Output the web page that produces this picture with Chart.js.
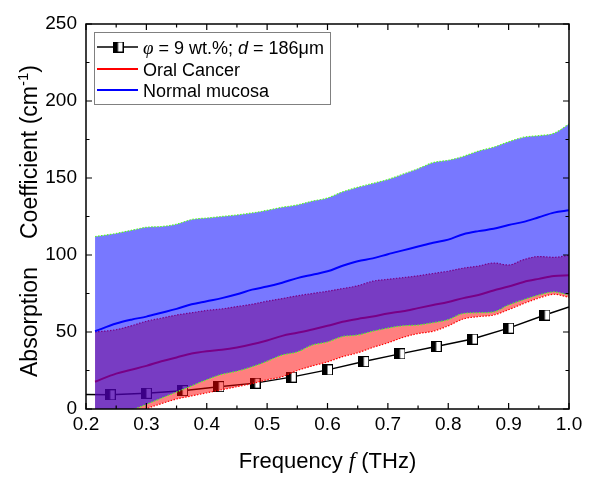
<!DOCTYPE html>
<html>
<head>
<meta charset="utf-8">
<script src="https://cdn.jsdelivr.net/npm/chart.js"></script>
<style>
    html, body { margin: 0; padding: 0; background: #fff; }
    #wrap { width: 592px; height: 477px; position: relative; }
</style>
</head>
<body>
<div id="wrap"><canvas id="myChart"></canvas></div>
<script>
// frequency grid (THz) for the two tissue bands
var freq = [0.215, 0.25, 0.275, 0.3, 0.325, 0.35, 0.375, 0.4, 0.425, 0.45, 0.475, 0.5, 0.525, 0.55, 0.575, 0.6,
    0.625, 0.65, 0.675, 0.7, 0.725, 0.75, 0.775, 0.8, 0.825, 0.85, 0.875, 0.9, 0.925, 0.95, 0.975, 1.0];

var normalUpper = [112, 114, 116, 118, 118.5, 120, 123, 124, 125, 126, 127.3, 129, 131, 132.5, 135, 137,
    141, 144, 146.5, 149, 152.5, 156, 160, 161.5, 164, 167.5, 170, 173.5, 176.5, 177.5, 179, 185];
var normalMean = [50.5, 55.5, 58, 60, 62.5, 65, 68, 70, 72, 74.5, 77.5, 79.5, 82, 85, 87.2, 89.4,
    93, 96, 97.8, 100.5, 103, 105.5, 108, 110, 113.5, 115.5, 117, 119.5, 121.5, 124.5, 127.5, 129];
var normalLower = [-14, -5, -1, 3, 7, 11, 15, 19, 22.5, 24.5, 27.4, 31, 35, 37, 41.5, 43.5,
    47, 48, 50.5, 52.5, 54, 54.5, 56, 58, 62, 62.5, 63, 67.5, 71, 74, 76, 74];

var cancerUpper = [50, 51.5, 54, 57, 59, 61, 62.5, 64, 65, 66.5, 68, 70, 71.7, 73.5, 75, 76.5,
    78.2, 80, 83, 84.2, 85.3, 86.5, 88, 89.5, 91.5, 92.8, 94.8, 93.5, 97, 99, 98.5, 99.7];
var cancerMean = [17.7, 23, 25.5, 28, 31, 33.5, 36, 37.5, 38.5, 40, 42, 44.5, 47.5, 49.5, 51.6, 54,
    56.6, 58.5, 60, 62, 63.5, 65.5, 67.5, 69.5, 72, 74, 77, 79.5, 82.5, 84.5, 86.3, 86.8];
var cancerLower = [-25, -15, -6, 0, 3.5, 6.5, 8.5, 10.5, 12.5, 14.5, 16.5, 19, 21, 25, 28, 30.6,
    34, 36.5, 40, 43, 46.5, 49, 50.5, 54, 58.5, 60, 61, 64.5, 68.5, 72, 74.5, 72.5];

// film sample (phi = 9 wt.%, d = 186 um)
var filmFreq = [0.2, 0.24, 0.30, 0.36, 0.42, 0.48, 0.54, 0.60, 0.66, 0.72, 0.78, 0.84, 0.90, 0.96, 1.0];
var filmAbs = [9.4, 9.2, 10.2, 11.9, 14.5, 16.8, 20.7, 25.4, 30.8, 35.8, 40.6, 45.4, 52.5, 61, 66.2];
var filmMarks = [0, 1, 1, 1, 1, 1, 1, 1, 1, 1, 1, 1, 1, 1, 0];

var xTicks = [0.2, 0.3, 0.4, 0.5, 0.6, 0.7, 0.8, 0.9, 1.0];
var yTicks = [0, 50, 100, 150, 200, 250];

function toPts(xs, ys) {
    return xs.map(function (x, i) { return {x: x, y: ys[i]}; });
}

// half filled square marker
var marker = document.createElement('canvas');
marker.width = 11;
marker.height = 11;
var mctx = marker.getContext('2d');
mctx.fillStyle = '#fff';
mctx.fillRect(0, 0, 11, 11);
mctx.fillStyle = '#000';
mctx.fillRect(0, 0, 5.5, 11);
mctx.strokeStyle = '#000';
mctx.lineWidth = 1;
mctx.strokeRect(0.5, 0.5, 10, 10);

var SANS = '"Liberation Sans", Arial, sans-serif';
var SERIF = '"Liberation Serif", "Times New Roman", serif';

var frameTicks = {
    id: 'frameTicks',
    afterDatasetsDraw: function (chart) {
        var a = chart.chartArea, ctx = chart.ctx;
        var xs = chart.scales.x, ys = chart.scales.y;
        ctx.save();
        ctx.strokeStyle = '#000';
        ctx.lineWidth = 1.2;
        ctx.beginPath();
        for (var i = 0; i <= 16; i++) {
            var px = xs.getPixelForValue(0.2 + i * 0.05);
            var len = i % 2 === 0 ? 6 : 3.5;
            ctx.moveTo(px, a.bottom); ctx.lineTo(px, a.bottom - len);
            ctx.moveTo(px, a.top); ctx.lineTo(px, a.top + len);
        }
        for (var j = 0; j <= 10; j++) {
            var py = ys.getPixelForValue(j * 25);
            var l2 = j % 2 === 0 ? 6 : 3.5;
            ctx.moveTo(a.left, py); ctx.lineTo(a.left + l2, py);
            ctx.moveTo(a.right, py); ctx.lineTo(a.right - l2, py);
        }
        ctx.stroke();
        ctx.lineWidth = 1.5;
        ctx.strokeRect(a.left, a.top, a.right - a.left, a.bottom - a.top);
        ctx.restore();
    }
};

function drawRun(ctx, parts, x, y) {
    parts.forEach(function (p) {
        ctx.font = p[1];
        ctx.fillText(p[0], x, y + (p[2] || 0));
        x += ctx.measureText(p[0]).width;
    });
    return x;
}

var labelsPlugin = {
    id: 'labelsPlugin',
    afterDraw: function (chart) {
        var ctx = chart.ctx, a = chart.chartArea;
        ctx.save();
        ctx.fillStyle = '#000';
        ctx.textBaseline = 'alphabetic';

        // x title
        var xParts = [['Frequency ', '22px ' + SANS], ['f', 'italic 23px ' + SERIF], [' (THz)', '22px ' + SANS]];
        var w = 0;
        xParts.forEach(function (p) { ctx.font = p[1]; w += ctx.measureText(p[0]).width; });
        drawRun(ctx, xParts, (a.left + a.right) / 2 - w / 2, 468);

        // y title
        ctx.save();
        ctx.translate(37, 0);
        ctx.rotate(-Math.PI / 2);
        drawRun(ctx, [['Absorption', '23px ' + SANS]], -377, 0);
        drawRun(ctx, [['Coefficient (cm', '23px ' + SANS], ['-1', '15px ' + SANS, -9], [')', '23px ' + SANS]], -239, 0);
        ctx.restore();

        // legend
        ctx.fillStyle = '#fff';
        ctx.fillRect(94.5, 32.5, 236, 72);
        ctx.strokeStyle = '#808080';
        ctx.lineWidth = 1;
        ctx.strokeRect(94.5, 32.5, 236, 72);

        var rows = [47, 69, 90];
        var cols = ['#000', '#ff0000', '#0000ff'];
        for (var i = 0; i < 3; i++) {
            ctx.strokeStyle = cols[i];
            ctx.lineWidth = i === 0 ? 1.5 : 2;
            ctx.beginPath();
            ctx.moveTo(97, rows[i]);
            ctx.lineTo(138, rows[i]);
            ctx.stroke();
        }
        ctx.drawImage(marker, 118 - 5.5, rows[0] - 5.5);

        ctx.fillStyle = '#000';
        drawRun(ctx, [['\u03c6', 'italic 19px ' + SERIF], [' = 9 wt.%; ', '18px ' + SANS],
            ['d', 'italic 18px ' + SANS], [' = 186\u03bcm', '18px ' + SANS]], 143, rows[0] + 6.5);
        drawRun(ctx, [['Oral Cancer', '18px ' + SANS]], 143, rows[1] + 6.5);
        drawRun(ctx, [['Normal mucosa', '18px ' + SANS]], 143, rows[2] + 6.5);
        ctx.restore();
    }
};

var GREEN = '#55ff22';

var ctx = document.getElementById('myChart');
var myChart = new Chart(ctx, {
    type: 'line',
    data: {
        datasets: [{
                label: 'film',
                data: toPts(filmFreq, filmAbs),
                borderColor: '#000',
                borderWidth: 1.5,
                pointStyle: marker,
                pointRadius: filmMarks.map(function (m) { return m ? 5 : 0; }),
                fill: false,
                order: 10
            }, {
                label: 'cancer lower',
                data: toPts(freq, cancerLower),
                borderColor: '#ff0000',
                borderWidth: 1.2,
                borderDash: [1.5, 1.5],
                pointRadius: 0,
                cubicInterpolationMode: 'monotone',
                fill: false,
                order: 8
            }, {
                label: 'cancer upper',
                data: toPts(freq, cancerUpper),
                borderColor: '#ff0000',
                borderWidth: 1.2,
                borderDash: [1.5, 1.5],
                pointRadius: 0,
                cubicInterpolationMode: 'monotone',
                backgroundColor: 'rgba(255, 0, 0, 0.5)',
                fill: 1,
                order: 9
            }, {
                label: 'Oral Cancer',
                data: toPts(freq, cancerMean),
                borderColor: '#ff0000',
                borderWidth: 2,
                pointRadius: 0,
                cubicInterpolationMode: 'monotone',
                fill: false,
                order: 7
            }, {
                label: 'normal lower',
                data: toPts(freq, normalLower),
                borderColor: GREEN,
                borderWidth: 1.2,
                borderDash: [1.5, 1.5],
                pointRadius: 0,
                cubicInterpolationMode: 'monotone',
                fill: false,
                order: 5
            }, {
                label: 'normal upper',
                data: toPts(freq, normalUpper),
                borderColor: GREEN,
                borderWidth: 1.2,
                borderDash: [1.5, 1.5],
                pointRadius: 0,
                cubicInterpolationMode: 'monotone',
                backgroundColor: 'rgba(0, 0, 255, 0.53)',
                fill: 4,
                order: 6
            }, {
                label: 'Normal mucosa',
                data: toPts(freq, normalMean),
                borderColor: '#0000ff',
                borderWidth: 2,
                pointRadius: 0,
                cubicInterpolationMode: 'monotone',
                fill: false,
                order: 4
            }
        ]
    },
    options: {
        responsive: true,
        maintainAspectRatio: false,
        animation: false,
        layout: {padding: {top: 24, right: 23, left: 0, bottom: 0}},
        plugins: {
            legend: {display: false},
            tooltip: {enabled: false},
            filler: {drawTime: 'beforeDatasetDraw'}
        },
        scales: {
            x: {
                type: 'linear',
                min: 0.2,
                max: 1.0,
                afterBuildTicks: function (scale) {
                    scale.ticks = xTicks.map(function (v) { return {value: v}; });
                },
                afterFit: function (scale) {
                    scale.height = 68;
                    scale.paddingLeft = 0;
                    scale.paddingRight = 0;
                },
                grid: {display: false, drawTicks: false},
                border: {display: false},
                ticks: {
                    color: '#000',
                    padding: 4,
                    maxRotation: 0,
                    font: {family: SANS, size: 19},
                    callback: function (v) { return Number(v).toFixed(1); }
                }
            },
            y: {
                type: 'linear',
                min: 0,
                max: 250,
                afterBuildTicks: function (scale) {
                    scale.ticks = yTicks.map(function (v) { return {value: v}; });
                },
                afterFit: function (scale) {
                    scale.width = 86;
                    scale.paddingTop = 0;
                    scale.paddingBottom = 0;
                },
                grid: {display: false, drawTicks: false},
                border: {display: false},
                ticks: {
                    color: '#000',
                    padding: 9,
                    font: {family: SANS, size: 19}
                }
            }
        }
    },
    plugins: [frameTicks, labelsPlugin]
});
</script>
</body>
</html>
